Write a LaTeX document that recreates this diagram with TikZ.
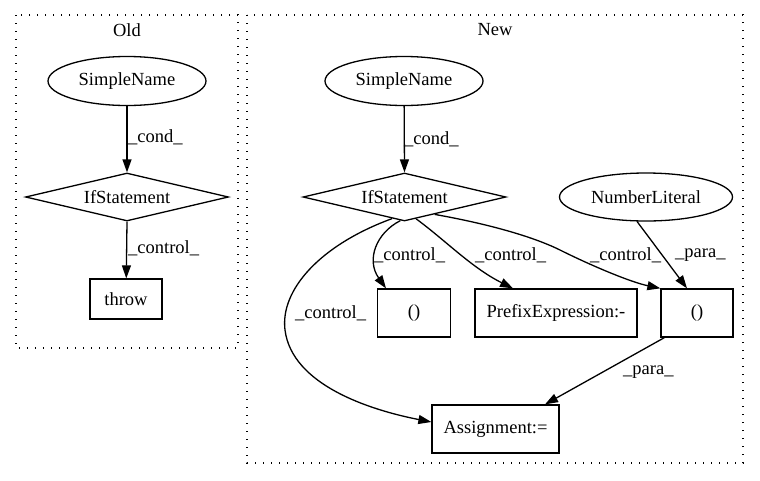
\documentclass[tikz,border=0pt]{standalone}
\usepackage{fontspec}
\setmainfont{Liberation Serif}
\usetikzlibrary{shapes.geometric,arrows.meta}
\begin{document}
\begin{tikzpicture}[x=1pt,y=-1pt,
  every node/.style={font=\fontsize{18.5}{22}\selectfont},
  ell/.style={draw,line width=1.3pt,ellipse,minimum width=158pt,minimum height=49pt,inner sep=0pt},
  dia/.style={draw,line width=1.3pt,diamond,aspect=4.2,minimum width=203pt,minimum height=48pt,inner sep=0pt},
  box/.style={draw,line width=1.3pt,rectangle,minimum height=48pt,inner sep=0pt},
  cluster/.style={draw,line width=1.3pt,dash pattern=on 1.3pt off 6.7pt},
  edge/.style={line width=1.3pt,-{Triangle[length=13pt,width=9pt]}},
  lbl/.style={anchor=west,inner sep=0pt}]
\useasboundingbox (0,0) rectangle (760,480);
% clusters
\draw[cluster] (16,15) rectangle (238,348);
\node (oldt) at (127,30) {Old};
\draw[cluster] (247,15) rectangle (743,463);
\node (newt) at (495,30) {New};
% old nodes
\node[ell] (sno) at (127,81) {SimpleName};
\node[dia] (ifo) at (127,197) {IfStatement};
\node[box,minimum width=72pt,minimum height=40pt] (thr) at (126,299) {throw};
\draw[edge] (sno) -- (ifo.north);
\node[lbl] (l1) at (128,137) {\_cond\_};
\draw[edge] (ifo.south) -- (thr);
\node[lbl] (l2) at (128,248) {\_control\_};
% new nodes
\node[ell] (snn) at (404,81) {SimpleName};
\node[dia] (ifn) at (404.5,197) {IfStatement};
\node[ell,minimum width=173pt,minimum height=48pt] (num) at (646,197) {NumberLiteral};
\node[box,minimum width=73pt] (p1) at (414,313) {()};
\node[box,minimum width=162pt] (pre) at (556,313) {PrefixExpression:-};
\node[box,minimum width=72pt] (p2) at (697,313) {()};
\node[box,minimum width=127pt] (asg) at (495.5,429) {Assignment:=};
\draw[edge] (snn) -- (ifn.north);
\node[lbl] (l3) at (404,139) {\_cond\_};
\draw[edge] (ifn.-100) .. controls (376,233) and (366,260) .. (p1.north -| 386,0);
\node[lbl] (l4) at (374,255) {\_control\_};
\draw[edge] (ifn.-62) .. controls (445,240) and (472,268) .. (p1.north -| 513,0);
\node[lbl] (l5) at (475,255) {\_control\_};
\draw[edge] (ifn.-30) .. controls (500,226) and (540,240) .. (560,250) .. controls (590,265) and (630,282) .. (p2.north west);
\node[lbl] (l6) at (590,255) {\_control\_};
\draw[edge] (num.-110) -- (p2.north -| 687,0);
\node[lbl] (l7) at (675,255) {\_para\_};
\draw[edge] (ifn.-120) .. controls (320,245) and (280,290) .. (285,330) .. controls (292,385) and (370,410) .. (asg.west |- 0,422);
\node[lbl] (l8) at (295,313) {\_control\_};
\draw[edge] (p2.south west) ++(4,0) -- (asg.north -| 545,0);
\node[lbl] (l9) at (623,372) {\_para\_};
\end{tikzpicture}
\end{document}
